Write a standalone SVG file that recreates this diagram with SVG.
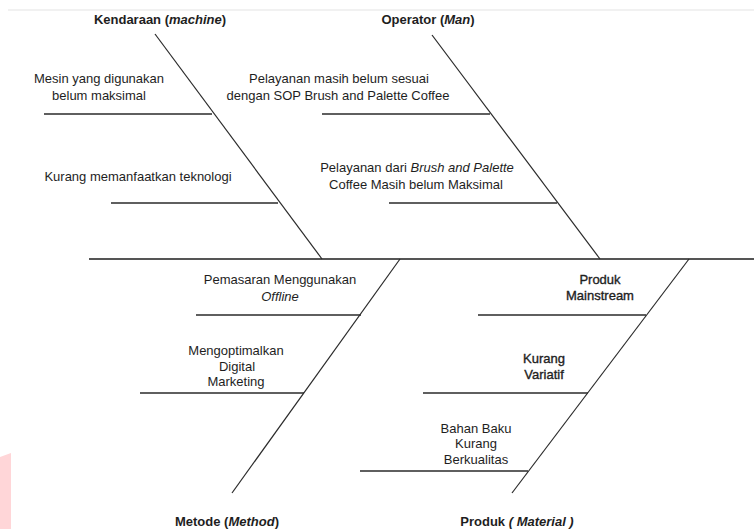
<svg xmlns="http://www.w3.org/2000/svg" width="754" height="529" viewBox="0 0 754 529">
<style>
  text { font-family: "Liberation Sans", Arial, sans-serif; fill: #1e1e1e; text-anchor: middle; }
  .lbl { font-size: 13px; }
  .dark { stroke: #1e1e1e; stroke-width: 0.35; }
  .head { font-size: 13px; font-weight: bold; }
  .it { font-style: italic; }
  .bone { stroke: #2a2a2a; stroke-width: 1.2; fill: none; }
  .rib { stroke: #2a2a2a; stroke-width: 1.5; fill: none; }
  .spine { stroke: #555; stroke-width: 2; fill: none; }
</style>
<rect width="754" height="529" fill="#ffffff"/>
<line x1="8" y1="10" x2="754" y2="10" stroke="#ececec" stroke-width="1.5"/>
<polygon points="0,457 11,453 11,529 0,529" fill="#ffd6d8"/>

<g id="connectors">
  <line class="spine" x1="89" y1="259" x2="754" y2="259"/>
  <line class="bone" x1="155" y1="34" x2="322" y2="259"/>
  <line class="bone" x1="432" y1="35" x2="600" y2="259"/>
  <line class="bone" x1="400" y1="259" x2="232" y2="493"/>
  <line class="bone" x1="689" y1="259" x2="512" y2="493"/>
  <line class="rib" x1="44" y1="114" x2="212" y2="114"/>
  <line class="rib" x1="111" y1="203" x2="278" y2="203"/>
  <line class="rib" x1="322" y1="114" x2="490" y2="114"/>
  <line class="rib" x1="389" y1="203" x2="557" y2="203"/>
  <line class="rib" x1="196" y1="315" x2="361" y2="315"/>
  <line class="rib" x1="140" y1="393" x2="304" y2="393"/>
  <line class="rib" x1="478" y1="315" x2="646" y2="315"/>
  <line class="rib" x1="423" y1="393" x2="588" y2="393"/>
  <line class="rib" x1="360" y1="471" x2="528" y2="471"/>
</g>

<g id="head-machine"><text class="head" x="160" y="24">Kendaraan (<tspan class="it">machine</tspan>)</text></g>
<g id="head-man"><text class="head" x="428" y="24">Operator (<tspan class="it">Man</tspan>)</text></g>
<g id="head-method"><text class="head" x="227" y="526">Metode (<tspan class="it">Method</tspan>)</text></g>
<g id="head-material"><text class="head" x="517" y="526">Produk <tspan class="it">( Material )</tspan></text></g>

<g id="cause-mesin">
  <text class="lbl" x="99" y="82.5">Mesin yang digunakan</text>
  <text class="lbl" x="99" y="99.5">belum maksimal</text>
</g>
<g id="cause-teknologi">
  <text class="lbl" x="138" y="180.5">Kurang memanfaatkan teknologi</text>
</g>
<g id="cause-sop">
  <text class="lbl" x="339" y="82.5">Pelayanan masih belum sesuai</text>
  <text class="lbl" x="338" y="99.5">dengan SOP Brush and Palette Coffee</text>
</g>
<g id="cause-pelayanan">
  <text class="lbl" x="417" y="171.5">Pelayanan dari <tspan class="it">Brush and Palette</tspan></text>
  <text class="lbl" x="416" y="188.5">Coffee Masih belum Maksimal</text>
</g>
<g id="cause-pemasaran">
  <text class="lbl" x="280" y="283.5">Pemasaran Menggunakan</text>
  <text class="lbl it" x="280" y="300.5">Offline</text>
</g>
<g id="cause-digital">
  <text class="lbl" x="236" y="354.5">Mengoptimalkan</text>
  <text class="lbl" x="237" y="370.5">Digital</text>
  <text class="lbl" x="236" y="386">Marketing</text>
</g>
<g id="cause-mainstream">
  <text class="lbl dark" x="600" y="283.5">Produk</text>
  <text class="lbl dark" x="600" y="299.5">Mainstream</text>
</g>
<g id="cause-variatif">
  <text class="lbl dark" x="544" y="362.5">Kurang</text>
  <text class="lbl dark" x="544" y="378.5">Variatif</text>
</g>
<g id="cause-bahan">
  <text class="lbl" x="476" y="432.5">Bahan Baku</text>
  <text class="lbl" x="476" y="447.5">Kurang</text>
  <text class="lbl" x="476" y="463.5">Berkualitas</text>
</g>
</svg>
